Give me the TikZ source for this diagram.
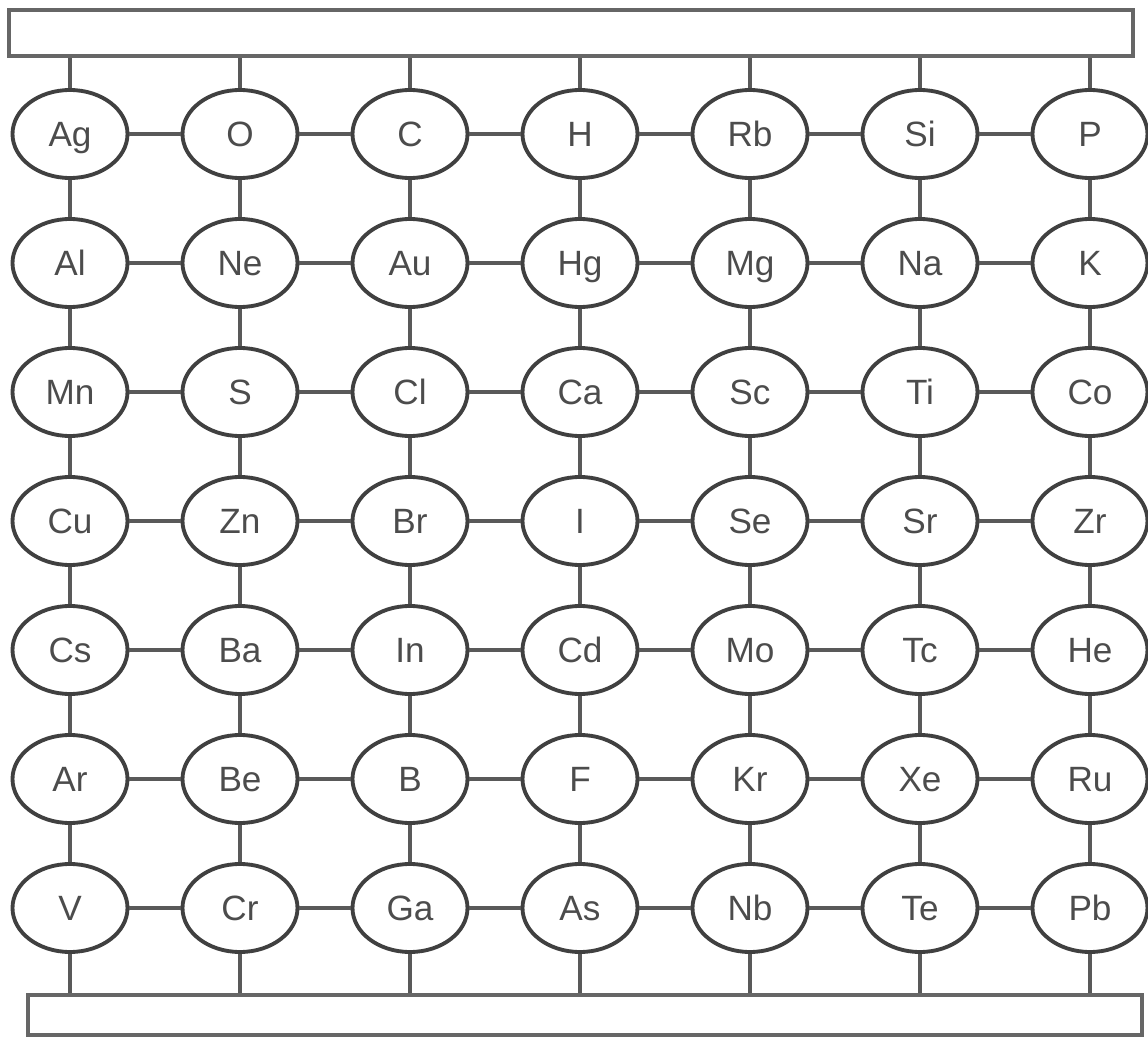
\documentclass[tikz,border=0pt]{standalone}
\usepackage{fontspec}
\setmainfont{Liberation Sans}
\usetikzlibrary{positioning,shapes.geometric}

\begin{document}
\begin{tikzpicture}
  \tikzstyle{atom}=[draw=black!75,line width=1.1pt,ellipse,minimum width=1.15cm,minimum height=0.88cm,inner sep=0pt,text height=7.2pt,text depth=0pt,text=black!70,font=\fontsize{10}{12}\selectfont]
  \tikzstyle{bar}=[draw=black!60,line width=1.1pt,inner sep=0pt]
  \tikzstyle{link}=[draw=black!65,line width=1pt]
  \useasboundingbox (0,0) rectangle (11.48,10.38);
  % top and bottom plates
  \node[bar,minimum width=11.24cm,minimum height=0.46cm] (top) at (5.71,10.05) {};
  \node[bar,minimum width=11.14cm,minimum height=0.40cm] (bot) at (5.85,0.23) {};
  % grid of atoms
  \foreach \row [count=\r] in {{Ag,O,C,H,Rb,Si,P},{Al,Ne,Au,Hg,Mg,Na,K},{Mn,S,Cl,Ca,Sc,Ti,Co},{Cu,Zn,Br,I,Se,Sr,Zr},{Cs,Ba,In,Cd,Mo,Tc,He},{Ar,Be,B,F,Kr,Xe,Ru},{V,Cr,Ga,As,Nb,Te,Pb}}
    \foreach \el [count=\c] in \row
      \node[atom] (n-\r-\c) at ({0.70+1.70*(\c-1)},{9.04-1.29*(\r-1)}) {\el};
  % horizontal bonds
  \foreach \r in {1,...,7}
    \foreach \c [count=\d from 2] in {1,...,6}
      \draw[link] (n-\r-\c) -- (n-\r-\d);
  % vertical bonds
  \foreach \r [count=\s from 2] in {1,...,6}
    \foreach \c in {1,...,7}
      \draw[link] (n-\r-\c) -- (n-\s-\c);
  % bonds to the plates
  \foreach \c in {1,...,7} {
    \draw[link] (n-1-\c) -- (n-1-\c |- top.south);
    \draw[link] (n-7-\c) -- (n-7-\c |- bot.north);
  }
\end{tikzpicture}
\end{document}
